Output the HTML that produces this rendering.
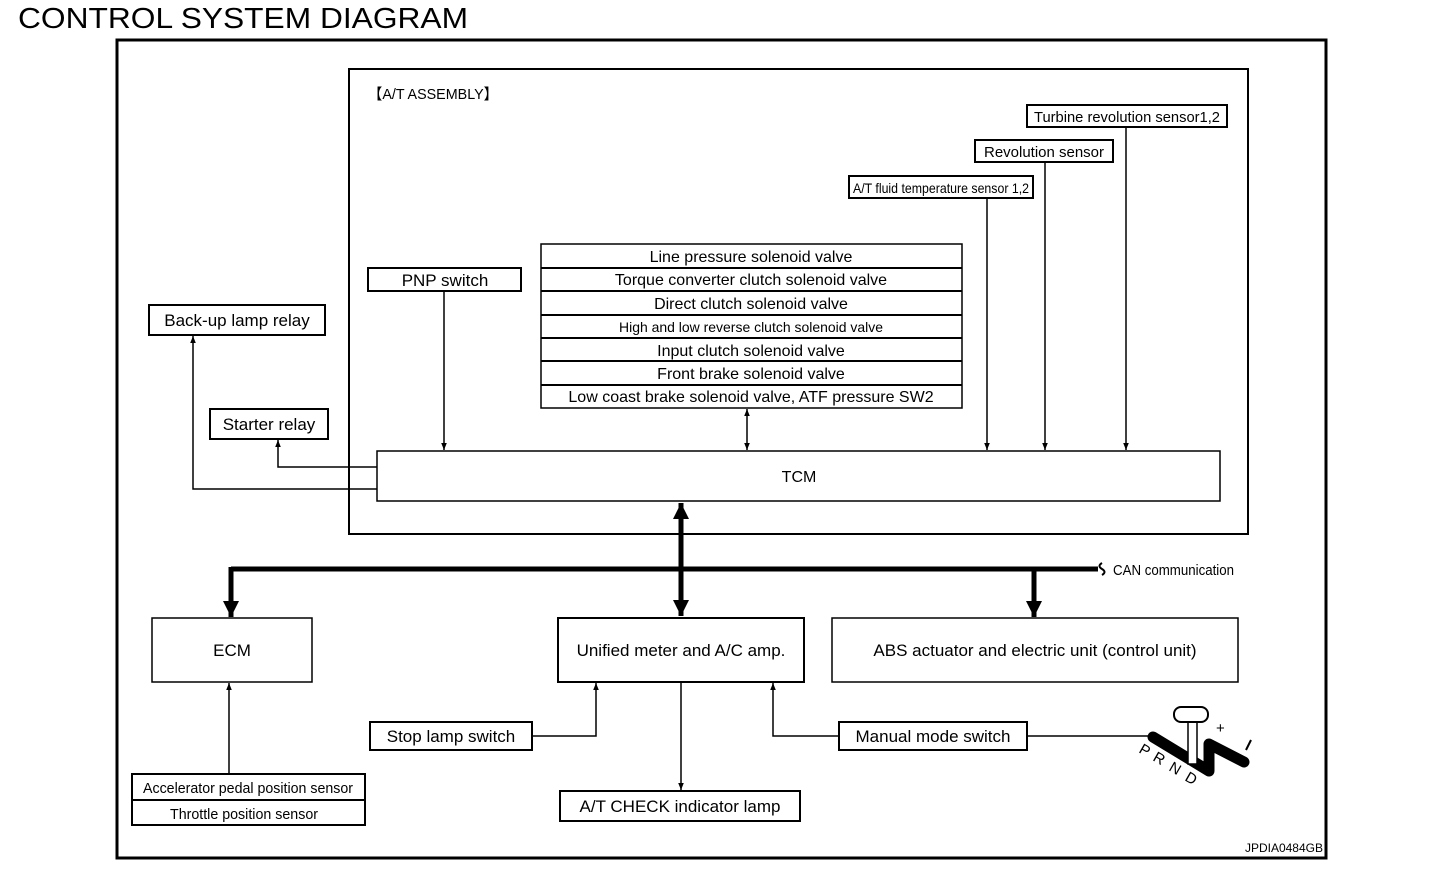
<!DOCTYPE html>
<html><head><meta charset="utf-8"><style>
html,body{margin:0;padding:0;background:#fff;}
svg{display:block;}
text{font-family:"Liberation Sans",sans-serif;fill:#000;}
</style></head><body>
<svg width="1456" height="870" viewBox="0 0 1456 870" xmlns="http://www.w3.org/2000/svg">
<defs>
<marker id="a" viewBox="0 0 10 10" refX="10" refY="5" markerWidth="7" markerHeight="7" orient="auto-start-reverse" markerUnits="userSpaceOnUse"><path d="M0,1 L10,5 L0,9 z" fill="#000"/></marker>
<marker id="b" viewBox="0 0 10 10" refX="10" refY="5" markerWidth="16" markerHeight="16" orient="auto-start-reverse" markerUnits="userSpaceOnUse"><path d="M0,0 L10,5 L0,10 z" fill="#000"/></marker>
</defs>
<text x="18" y="28" font-size="29" textLength="450" lengthAdjust="spacingAndGlyphs">CONTROL SYSTEM DIAGRAM</text>
<rect x="117" y="40" width="1209" height="818" fill="none" stroke="#000" stroke-width="3"/>
<rect x="349" y="69" width="899" height="465" fill="none" stroke="#000" stroke-width="2"/>
<text x="368" y="99" font-size="15" textLength="130" lengthAdjust="spacingAndGlyphs">【A/T ASSEMBLY】</text>

<g fill="none" stroke="#000" stroke-width="2">
<rect x="1027" y="105" width="200" height="22"/>
<rect x="975" y="140" width="138" height="22"/>
<rect x="849" y="176" width="184" height="22"/>
<rect x="368" y="268" width="153" height="23"/>
<rect x="541" y="244" width="421" height="164" stroke-width="1.5"/>
<rect x="149" y="305" width="176" height="30"/>
<rect x="210" y="409" width="118" height="30"/>
<rect x="377" y="451" width="843" height="50" stroke-width="1.5"/>
<rect x="152" y="618" width="160" height="64" stroke-width="1.5"/>
<rect x="558" y="618" width="246" height="64"/>
<rect x="832" y="618" width="406" height="64" stroke-width="1.5"/>
<rect x="370" y="722" width="162" height="28"/>
<rect x="839" y="722" width="188" height="28"/>
<rect x="560" y="791" width="240" height="30"/>
<rect x="132" y="774" width="233" height="51"/>
<line x1="132" y1="800" x2="365" y2="800"/>
<line x1="541" y1="268" x2="962" y2="268"/>
<line x1="541" y1="291" x2="962" y2="291"/>
<line x1="541" y1="315" x2="962" y2="315"/>
<line x1="541" y1="338" x2="962" y2="338"/>
<line x1="541" y1="361" x2="962" y2="361"/>
<line x1="541" y1="385" x2="962" y2="385"/>
</g>

<g font-size="16" text-anchor="middle">
<text x="1127" y="122" font-size="15" textLength="186" lengthAdjust="spacingAndGlyphs">Turbine revolution sensor1,2</text>
<text x="1044" y="157" font-size="15" textLength="120" lengthAdjust="spacingAndGlyphs">Revolution sensor</text>
<text x="941" y="193" font-size="14" textLength="176" lengthAdjust="spacingAndGlyphs">A/T fluid temperature sensor 1,2</text>
<text x="445" y="286" font-size="17">PNP switch</text>
<text x="751" y="262">Line pressure solenoid valve</text>
<text x="751" y="285">Torque converter clutch solenoid valve</text>
<text x="751" y="309">Direct clutch solenoid valve</text>
<text x="751" y="332" font-size="14" textLength="264" lengthAdjust="spacingAndGlyphs">High and low reverse clutch solenoid valve</text>
<text x="751" y="356">Input clutch solenoid valve</text>
<text x="751" y="379">Front brake solenoid valve</text>
<text x="751" y="402">Low coast brake solenoid valve, ATF pressure SW2</text>
<text x="237" y="326" font-size="17">Back-up lamp relay</text>
<text x="269" y="430" font-size="17">Starter relay</text>
<text x="799" y="482">TCM</text>
<text x="232" y="656" font-size="17">ECM</text>
<text x="681" y="656" font-size="17">Unified meter and A/C amp.</text>
<text x="1035" y="656" font-size="17">ABS actuator and electric unit (control unit)</text>
<text x="451" y="742" font-size="17">Stop lamp switch</text>
<text x="933" y="742" font-size="17">Manual mode switch</text>
<text x="680" y="812" font-size="17">A/T CHECK indicator lamp</text>
<text x="248" y="793" font-size="15" textLength="210" lengthAdjust="spacingAndGlyphs">Accelerator pedal position sensor</text>
<text x="244" y="819" font-size="15" textLength="148" lengthAdjust="spacingAndGlyphs">Throttle position sensor</text>
</g>
<text x="1113" y="575" font-size="15" textLength="121" lengthAdjust="spacingAndGlyphs">CAN communication</text>
<text x="1323" y="852" font-size="12" text-anchor="end">JPDIA0484GB</text>

<g fill="none" stroke="#000" stroke-width="1.5">
<line x1="444" y1="291" x2="444" y2="450" marker-end="url(#a)"/>
<line x1="747" y1="409" x2="747" y2="450" marker-start="url(#a)" marker-end="url(#a)"/>
<line x1="987" y1="198" x2="987" y2="450" marker-end="url(#a)"/>
<line x1="1045" y1="162" x2="1045" y2="450" marker-end="url(#a)"/>
<line x1="1126" y1="127" x2="1126" y2="450" marker-end="url(#a)"/>
<polyline points="377,467 278,467 278,440" marker-end="url(#a)"/>
<polyline points="377,489 193,489 193,336" marker-end="url(#a)"/>
<line x1="229" y1="774" x2="229" y2="683" marker-end="url(#a)"/>
<polyline points="532,736 596,736 596,683" marker-end="url(#a)"/>
<polyline points="839,736 773,736 773,683" marker-end="url(#a)"/>
<line x1="681" y1="682" x2="681" y2="790" marker-end="url(#a)"/>
<line x1="1027" y1="736" x2="1150" y2="736"/>
</g>

<g fill="none" stroke="#000" stroke-width="5">
<line x1="231" y1="569" x2="1098" y2="569"/>
<line x1="231" y1="567" x2="231" y2="617" marker-end="url(#b)"/>
<line x1="1034" y1="567" x2="1034" y2="617" marker-end="url(#b)"/>
<line x1="681" y1="503" x2="681" y2="616" marker-start="url(#b)" marker-end="url(#b)"/>
</g>
<path d="M1102,563 q-5,3 0,6 q5,3 0,6" fill="none" stroke="#000" stroke-width="2"/>

<!-- shift lever -->
<g>
<polyline points="1153,737 1209,771 1209,744 1244,762" fill="none" stroke="#000" stroke-width="11" stroke-linecap="round" stroke-linejoin="round"/>
<rect x="1188" y="718" width="9" height="46" fill="#fff" stroke="#000" stroke-width="1.5"/>
<rect x="1174" y="707" width="34" height="15" rx="7" fill="#fff" stroke="#000" stroke-width="2"/>
<text x="1216" y="733" font-size="15">+</text>
<line x1="1251" y1="740" x2="1246" y2="750" stroke="#000" stroke-width="2"/>
<g font-size="15">
<text x="1138" y="752" transform="rotate(30 1138 752)">P</text>
<text x="1152" y="760" transform="rotate(30 1152 760)">R</text>
<text x="1168" y="770" transform="rotate(30 1168 770)">N</text>
<text x="1184" y="780" transform="rotate(30 1184 780)">D</text>
</g>
</g>
</svg>
</body></html>
